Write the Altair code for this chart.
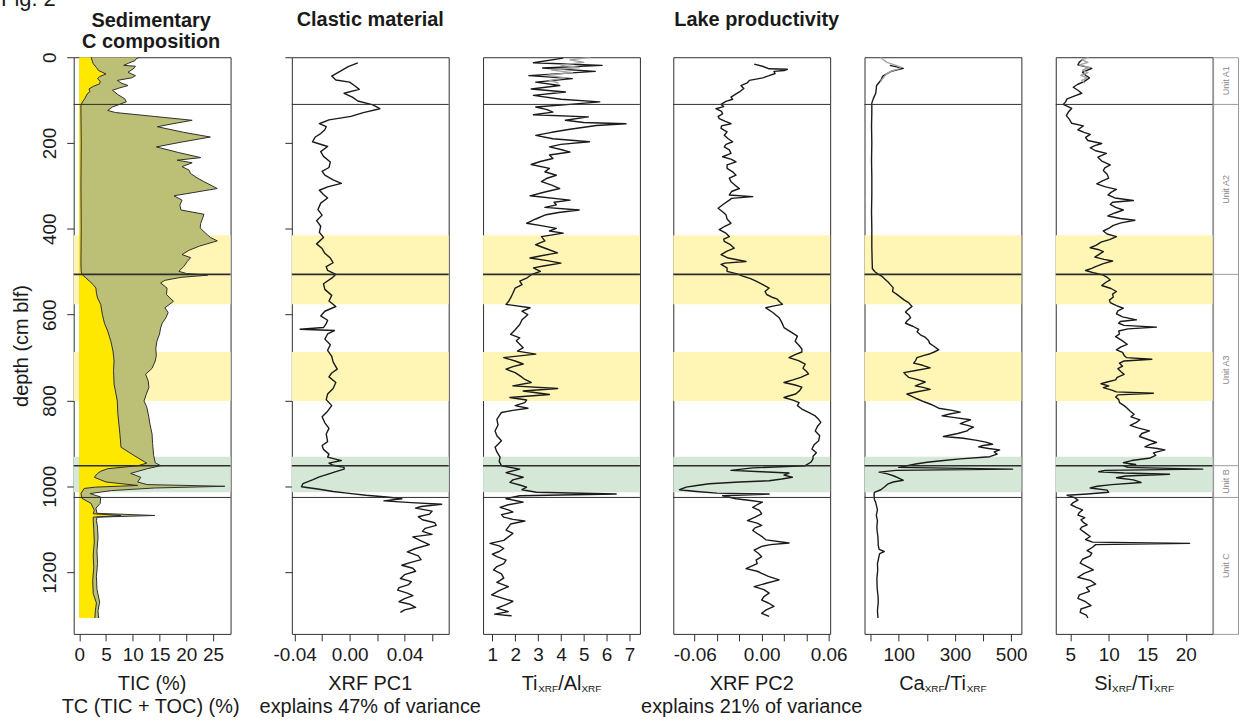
import altair as alt
import pandas as pd

# ---------------------------------------------------------------- styling
FONT = "Liberation Sans"
INK = "#1a1a1a"
FRAME = "#2e2e2e"
GREY_SERIES = "#a3a3a3"
UNIT_GREY = "#9a9a9a"
BAND_YELLOW = "#FFF5B5"
BAND_GREEN = "#D5E7D6"
TIC_FILL = "#FFE800"
TC_FILL = "#BCC076"

PANEL_W = 157.5
PANEL_H = 579
UNIT_W = 25
DEPTH_DOMAIN = [0, 1344]
DEPTH_TICKS = [0, 200, 400, 600, 800, 1000, 1200]

# ---------------------------------------------------------------- core units and shaded intervals
UNIT_NAMES = ["Unit A1", "Unit A2", "Unit A3", "Unit B", "Unit C"]
UNIT_TOP = [0, 110, 506, 952, 1026]
UNIT_BASE = [110, 506, 952, 1026, 1344]
BOUNDARY_DEPTH = [110, 506, 952, 1026]
BOUNDARY_WIDTH = [1.0, 1.6, 1.6, 1.0]

BAND_TOP = [415, 687, 931]
BAND_BASE = [576, 801, 1014]
BAND_KIND = ["yellow", "yellow", "green"]

# ---------------------------------------------------------------- carbon (depth cm, %)
TIC = [(0, 2.2), (8, 2.4), (15, 2.6), (24, 3.2), (31, 3.6), (39, 5.0), (45, 3.8), (50, 3.4),
       (56, 3.9), (62, 3.8), (68, 2.6), (74, 1.8), (80, 2.0), (85, 1.5), (97, 1.0), (104, 0.6),
       (112, 0.3), (130, 0.3), (200, 0.35), (300, 0.3), (400, 0.35), (480, 0.3), (500, 0.35),
       (506, 0.5), (514, 1.2), (522, 1.9), (530, 2.6), (538, 3.1), (550, 3.2), (561, 3.4),
       (576, 4.0), (599, 4.3), (620, 4.7), (638, 5.3), (662, 5.9), (685, 6.3), (708, 6.5),
       (730, 6.4), (762, 6.5), (801, 7.1), (830, 7.2), (855, 7.4), (880, 7.6), (909, 7.8),
       (928, 10.2), (946, 12.6), (952, 11.0), (959, 5.3), (965, 4.0), (970, 3.4), (979, 2.8),
       (990, 5.0), (998, 10.9), (1002, 3.0), (1005, 0.9), (1017, 0.3), (1028, 0.5), (1040, 2.2),
       (1056, 2.8), (1064, 2.6), (1068, 7.8), (1072, 2.6), (1079, 2.6), (1100, 2.7), (1130, 2.8),
       (1160, 2.6), (1190, 2.7), (1220, 2.5), (1250, 2.6), (1272, 3.2), (1290, 3.0), (1307, 2.9)]

TC = [(0, 11.2), (4, 10.6), (8, 10.4), (14, 9.2), (19, 8.3), (21, 10.5), (28, 10.0), (35, 9.1),
      (43, 10.5), (48, 9.8), (54, 7.1), (60, 7.8), (66, 9.1), (72, 7.4), (77, 6.2), (87, 7.2),
      (97, 8.5), (104, 8.8), (110, 7.5), (116, 6.2), (124, 5.3), (129, 6.8), (138, 14.0),
      (147, 21.1), (155, 17.5), (162, 14.6), (175, 19.5), (186, 24.5), (198, 19.0), (209, 14.4),
      (222, 18.5), (234, 22.7), (240, 18.3), (246, 21.1), (255, 19.2), (263, 20.5), (271, 20.8),
      (281, 22.0), (290, 23.3), (306, 25.8), (323, 17.7), (333, 19.2), (345, 18.8), (356, 19.0),
      (366, 23.3), (377, 23.0), (387, 22.7), (398, 22.6), (410, 23.6), (420, 24.5), (428, 25.8),
      (440, 22.5), (450, 20.5), (460, 19.2), (467, 20.8), (476, 20.2), (488, 19.5), (499, 18.6),
      (504, 20.0), (508, 24.0), (513, 19.0), (520, 16.0), (526, 15.2), (538, 16.4), (553, 16.3),
      (569, 17.6), (584, 16.0), (595, 16.6), (607, 16.2), (620, 15.5), (631, 15.2), (645, 15.0),
      (662, 14.5), (680, 14.3), (695, 14.4), (708, 14.2), (725, 13.6), (739, 12.4), (755, 12.9),
      (770, 13.0), (786, 12.5), (801, 12.1), (815, 12.6), (839, 13.0), (855, 13.2), (878, 13.6),
      (900, 13.7), (928, 13.9), (945, 14.2), (952, 15.2), (959, 12.7), (965, 11.0), (970, 9.6),
      (979, 11.5), (990, 10.9), (996, 12.7), (1000, 27.2), (1004, 14.0), (1010, 6.0),
      (1017, 2.0), (1025, 4.0), (1040, 3.9), (1051, 3.1), (1063, 3.3), (1068, 14.1), (1072, 3.3),
      (1080, 3.2), (1095, 3.4), (1120, 3.5), (1150, 3.3), (1180, 3.4), (1210, 3.2), (1240, 3.3),
      (1270, 3.8), (1290, 3.5), (1307, 3.6)]

# ---------------------------------------------------------------- XRF principal component 1
PC1 = [(13, 0.006), (22, -0.001), (31, -0.006), (44, -0.013), (53, -0.010), (58, 0.000),
       (67, 0.004), (75, 0.007), (84, -0.004), (93, 0.002), (102, 0.006), (111, 0.017),
       (120, 0.022), (129, 0.010), (138, 0.001), (146, -0.015), (155, -0.022), (162, -0.017),
       (169, -0.018), (178, -0.021), (186, -0.025), (197, -0.027), (208, -0.016), (220, -0.021),
       (231, -0.019), (244, -0.014), (257, -0.015), (266, -0.020), (275, -0.018), (286, -0.012),
       (294, -0.006), (302, -0.016), (310, -0.022), (320, -0.019), (328, -0.016), (340, -0.021),
       (355, -0.023), (368, -0.020), (381, -0.024), (394, -0.021), (408, -0.022), (420, -0.019),
       (435, -0.024), (446, -0.020), (457, -0.018), (468, -0.014), (479, -0.012), (488, -0.017),
       (497, -0.016), (506, -0.010), (515, -0.013), (528, -0.019), (541, -0.018), (555, -0.013),
       (568, -0.015), (581, -0.010), (592, -0.018), (603, -0.021), (613, -0.016), (621, -0.017),
       (630, -0.019), (634, -0.036), (637, -0.011), (645, -0.016), (657, -0.018), (670, -0.014),
       (683, -0.016), (697, -0.013), (710, -0.012), (727, -0.009), (736, -0.013), (745, -0.015),
       (758, -0.010), (772, -0.012), (785, -0.016), (798, -0.017), (812, -0.013), (825, -0.016),
       (838, -0.020), (852, -0.018), (865, -0.015), (878, -0.017), (896, -0.016), (905, -0.020),
       (914, -0.019), (925, -0.015), (932, -0.016), (940, -0.006), (946, -0.015), (951, -0.012),
       (956, -0.004), (960, -0.004), (966, -0.010), (971, -0.015), (978, -0.022), (985, -0.027),
       (994, -0.034), (1001, -0.035), (1007, -0.022), (1012, -0.012), (1016, -0.002),
       (1021, 0.012), (1025, 0.027), (1029, 0.038), (1034, 0.025), (1038, 0.045), (1042, 0.067),
       (1047, 0.052), (1051, 0.048), (1058, 0.060), (1065, 0.058), (1071, 0.050), (1078, 0.053),
       (1085, 0.062), (1091, 0.063), (1098, 0.055), (1105, 0.053), (1112, 0.060), (1118, 0.046),
       (1127, 0.052), (1136, 0.058), (1145, 0.048), (1153, 0.042), (1162, 0.050), (1171, 0.052),
       (1178, 0.044), (1184, 0.038), (1191, 0.046), (1198, 0.048), (1206, 0.040), (1215, 0.037),
       (1222, 0.045), (1229, 0.043), (1236, 0.036), (1242, 0.035), (1249, 0.042), (1255, 0.046),
       (1262, 0.040), (1269, 0.036), (1275, 0.044), (1282, 0.048), (1288, 0.040), (1294, 0.037)]

# ---------------------------------------------------------------- Ti/Al ratio
TI_AL = [(2, 4.1), (13, 2.8), (19, 5.8), (25, 3.2), (33, 5.5), (43, 2.6), (50, 4.5), (58, 2.9),
         (66, 3.95), (74, 2.7), (81, 4.2), (89, 2.8), (98, 4.0), (104, 5.7), (110, 4.4),
         (116, 2.9), (122, 3.4), (128, 3.65), (134, 2.8), (139, 5.2), (147, 4.2), (152, 5.0),
         (155, 6.85), (159, 5.55), (168, 4.4), (175, 3.6), (182, 2.9), (190, 3.65), (197, 5.25),
         (203, 4.0), (209, 3.5), (215, 4.0), (221, 4.4), (228, 3.5), (236, 3.65), (243, 3.1),
         (250, 2.7), (259, 3.5), (267, 3.3), (275, 3.8), (282, 3.4), (290, 3.15), (298, 3.6),
         (306, 3.95), (314, 3.3), (323, 2.65), (333, 4.4), (338, 3.7), (344, 3.8), (350, 3.3),
         (356, 4.8), (362, 3.9), (367, 3.35), (377, 2.9), (387, 2.5), (393, 3.2), (399, 3.8),
         (405, 3.5), (410, 4.1), (418, 3.15), (428, 3.3), (437, 2.9), (447, 3.4), (456, 3.85),
         (462, 3.2), (468, 2.65), (474, 3.4), (480, 4.0), (486, 3.3), (491, 2.8), (499, 3.1),
         (507, 2.7), (515, 2.5), (522, 2.2), (530, 2.3), (538, 2.0), (550, 1.9), (561, 1.8),
         (570, 1.7), (576, 1.6), (584, 2.65), (592, 2.3), (600, 2.55), (612, 2.3), (623, 2.2),
         (635, 2.0), (646, 1.8), (654, 2.2), (661, 2.05), (669, 2.2), (677, 2.35), (685, 2.1),
         (692, 2.9), (700, 1.5), (708, 2.0), (715, 2.35), (721, 1.9), (727, 1.6), (735, 2.0),
         (742, 2.2), (750, 2.4), (758, 2.7), (766, 1.9), (772, 3.86), (778, 2.35), (786, 3.5),
         (793, 1.77), (799, 2.5), (805, 2.42), (812, 2.0), (818, 2.56), (823, 1.9), (828, 1.4),
         (836, 1.3), (844, 1.2), (857, 1.25), (871, 1.12), (882, 1.2), (894, 1.4), (902, 1.25),
         (909, 1.12), (920, 1.2), (932, 1.34), (942, 1.3), (952, 1.4), (960, 2.2), (968, 1.6),
         (974, 2.0), (979, 2.35), (985, 1.9), (991, 1.77), (997, 2.2), (1002, 2.5), (1008, 2.3),
         (1014, 2.93), (1018, 6.42), (1022, 2.2), (1029, 1.6), (1033, 2.0), (1037, 2.35),
         (1043, 1.7), (1049, 1.34), (1055, 1.7), (1060, 1.9), (1066, 1.4), (1072, 1.5),
         (1077, 1.9), (1081, 2.42), (1088, 1.8), (1095, 1.7), (1102, 1.6), (1110, 1.9),
         (1118, 1.7), (1126, 1.5), (1133, 0.9), (1139, 1.3), (1145, 1.5), (1152, 1.3), (1158, 1.0),
         (1164, 1.2), (1172, 1.6), (1180, 1.5), (1187, 1.2), (1195, 1.05), (1204, 1.4),
         (1214, 1.5), (1224, 1.2), (1234, 1.7), (1243, 1.3), (1253, 0.97), (1260, 1.4),
         (1268, 1.9), (1276, 1.6), (1284, 1.2), (1292, 1.7), (1298, 1.1), (1302, 1.85)]
TI_AL_TOP = [(0, 5.3), (6, 4.4), (12, 5.0), (18, 4.0), (24, 4.8), (30, 3.6), (36, 4.5),
             (42, 3.4), (48, 4.2), (54, 3.5), (60, 3.9)]

# ---------------------------------------------------------------- XRF principal component 2
PC2 = [(16, -0.0067), (21, 0.0007), (27, 0.0067), (28, 0.023), (31, 0.020), (33, 0.011),
       (38, 0.012), (43, 0.0067), (48, 0.001), (54, -0.011), (60, -0.013), (66, -0.0186),
       (73, -0.016), (81, -0.020), (87, -0.024), (93, -0.0275), (98, -0.026), (103, -0.032),
       (110, -0.0364), (115, -0.034), (120, -0.041), (126, -0.036), (132, -0.035), (138, -0.039),
       (143, -0.038), (149, -0.033), (155, -0.0275), (160, -0.036), (166, -0.0364), (174, -0.031),
       (182, -0.0335), (190, -0.030), (197, -0.026), (203, -0.032), (209, -0.0335), (216, -0.029),
       (224, -0.0275), (232, -0.035), (238, -0.027), (244, -0.023), (251, -0.031), (259, -0.031),
       (267, -0.026), (275, -0.023), (282, -0.029), (290, -0.0275), (298, -0.024), (306, -0.020),
       (313, -0.027), (321, -0.029), (325, -0.008), (329, -0.027), (333, -0.029), (342, -0.034),
       (352, -0.039), (360, -0.035), (367, -0.032), (377, -0.031), (387, -0.0275), (394, -0.033),
       (402, -0.038), (410, -0.032), (418, -0.029), (424, -0.034), (429, -0.0335), (437, -0.028),
       (445, -0.0245), (452, -0.031), (460, -0.0364), (468, -0.030), (476, -0.014), (480, -0.033),
       (483, -0.0364), (491, -0.031), (499, -0.031), (505, -0.022), (510, -0.017), (516, -0.010),
       (522, -0.005), (530, 0.001), (538, 0.0067), (546, 0.003), (553, 0.0045), (560, 0.010),
       (564, 0.014), (570, 0.016), (576, 0.0186), (580, 0.010), (584, 0.0037), (595, 0.010),
       (607, 0.0156), (618, 0.018), (630, 0.020), (640, 0.026), (650, 0.032), (662, 0.030),
       (672, 0.0335), (680, 0.036), (687, 0.036), (693, 0.030), (700, 0.0245), (707, 0.033),
       (715, 0.039), (725, 0.037), (732, 0.040), (738, 0.042), (746, 0.035), (752, 0.028),
       (758, 0.020), (764, 0.030), (769, 0.036), (777, 0.034), (785, 0.0305), (789, 0.025),
       (793, 0.020), (799, 0.028), (805, 0.0335), (812, 0.032), (820, 0.036), (828, 0.042),
       (836, 0.048), (844, 0.051), (851, 0.053), (860, 0.050), (871, 0.048), (882, 0.052),
       (894, 0.051), (903, 0.047), (913, 0.045), (922, 0.049), (930, 0.046), (936, 0.046),
       (944, 0.044), (952, 0.039), (957, -0.008), (963, -0.0275), (966, 0.000), (969, 0.0245),
       (974, 0.020), (979, 0.0275), (983, 0.018), (987, 0.0067), (990, -0.020), (994, -0.047),
       (998, -0.058), (1002, -0.0676), (1008, -0.0736), (1012, -0.0587), (1016, -0.040),
       (1018, 0.0067), (1022, -0.035), (1025, -0.030), (1029, -0.023), (1033, -0.010),
       (1037, 0.0007), (1043, -0.004), (1049, -0.008), (1056, -0.002), (1064, 0.000),
       (1072, -0.006), (1080, -0.0127), (1086, -0.004), (1091, 0.000), (1097, -0.006),
       (1103, -0.008), (1110, -0.004), (1118, 0.0007), (1125, 0.004), (1132, 0.0245),
       (1136, 0.008), (1140, 0.000), (1149, -0.0067), (1156, -0.003), (1164, 0.000),
       (1172, -0.005), (1180, -0.004), (1186, -0.009), (1192, -0.014), (1198, -0.004),
       (1203, 0.000), (1210, 0.006), (1218, 0.0156), (1226, 0.004), (1234, -0.0067),
       (1241, 0.002), (1249, 0.0067), (1257, 0.002), (1265, 0.000), (1272, 0.006), (1280, 0.011),
       (1288, 0.004), (1296, 0.000), (1303, 0.0067)]

# ---------------------------------------------------------------- Ca/Ti ratio
CA_TI = [(19, 68), (26, 116), (33, 73), (44, 43), (53, 37), (66, 21), (84, 18), (97, 9),
         (107, 4), (130, 4), (160, 3), (200, 4), (240, 3), (280, 4), (320, 4), (360, 3), (400, 4),
         (440, 4), (470, 5), (493, 6), (500, 15), (505, 25), (510, 39), (517, 50), (524, 62),
         (530, 70), (537, 80), (546, 78), (552, 92), (559, 106), (566, 120), (572, 135),
         (581, 147), (587, 135), (594, 124), (600, 135), (607, 142), (614, 130), (620, 124),
         (627, 150), (634, 171), (640, 165), (647, 177), (653, 195), (660, 206), (667, 210),
         (673, 224), (682, 242), (687, 226), (691, 212), (695, 190), (700, 165), (707, 160),
         (713, 153), (718, 185), (724, 212), (730, 160), (735, 118), (740, 125), (746, 135),
         (752, 170), (757, 194), (762, 175), (766, 159), (770, 190), (774, 212), (779, 170),
         (785, 129), (790, 145), (796, 165), (803, 190), (810, 218), (814, 230), (818, 242),
         (823, 290), (827, 319), (831, 285), (836, 254), (840, 300), (845, 355), (850, 335),
         (854, 319), (858, 345), (862, 366), (867, 350), (871, 343), (877, 310), (884, 259),
         (888, 330), (893, 378), (897, 410), (902, 434), (905, 400), (908, 384), (912, 420),
         (915, 459), (920, 440), (925, 450), (931, 424), (936, 319), (940, 260), (944, 201),
         (948, 160), (952, 130), (956, 100), (960, 505), (963, 90), (967, 30), (971, 60),
         (976, 83), (981, 100), (986, 116), (990, 80), (995, 60), (1001, 50), (1008, 36),
         (1014, 13), (1022, 12), (1030, 13), (1038, 18), (1055, 24), (1068, 20), (1080, 24),
         (1095, 22), (1104, 23), (1120, 26), (1138, 27), (1147, 30), (1152, 48), (1157, 32),
         (1162, 30), (1180, 24), (1195, 25), (1215, 22), (1237, 23), (1255, 26), (1270, 27),
         (1290, 24), (1307, 26)]
CA_TI_TOP = [(0, 35), (6, 45), (12, 58), (18, 85), (23, 108), (27, 100), (32, 75), (38, 58),
             (44, 50), (52, 40), (58, 35)]

# ---------------------------------------------------------------- Si/Ti ratio
SI_TI = [(4, 6.7), (11, 6.2), (18, 6.0), (26, 7.8), (35, 6.6), (42, 7.0), (48, 7.5), (57, 6.8),
         (63, 6.0), (70, 5.4), (77, 6.0), (84, 6.5), (90, 5.6), (97, 4.6), (104, 4.4), (110, 4.1),
         (119, 5.2), (127, 4.8), (136, 4.5), (145, 4.9), (154, 5.2), (160, 6.7), (169, 6.0),
         (175, 6.8), (180, 7.6), (187, 7.0), (194, 7.3), (201, 9.1), (206, 8.2), (211, 7.6),
         (218, 8.3), (224, 9.7), (233, 8.6), (242, 9.1), (251, 10.2), (258, 9.5), (264, 9.3),
         (273, 9.8), (282, 10.0), (288, 9.2), (295, 8.45), (302, 9.6), (308, 11.0), (315, 10.3),
         (321, 9.9), (328, 10.8), (334, 13.2), (338, 10.5), (343, 10.2), (350, 10.9), (356, 11.9),
         (363, 10.8), (370, 9.9), (376, 11.5), (380, 13.4), (386, 11.6), (392, 10.6), (399, 10.0),
         (405, 9.3), (412, 9.8), (418, 11.0), (425, 10.1), (431, 9.0), (438, 8.4), (444, 7.6),
         (448, 8.6), (453, 9.3), (460, 8.7), (466, 8.2), (471, 9.4), (475, 10.5), (481, 9.3),
         (488, 8.3), (492, 7.8), (497, 7.0), (503, 8.2), (508, 9.3), (513, 9.8), (519, 10.2),
         (525, 9.6), (532, 9.1), (539, 10.3), (546, 11.0), (552, 10.5), (559, 10.6), (566, 10.1),
         (572, 10.2), (579, 11.0), (585, 11.9), (591, 11.2), (598, 11.0), (605, 11.8),
         (612, 13.6), (616, 11.5), (620, 11.3), (625, 12.0), (629, 16.2), (633, 12.5),
         (638, 11.3), (645, 11.4), (651, 10.9), (660, 11.7), (669, 12.4), (675, 11.6),
         (682, 11.0), (688, 11.8), (695, 12.0), (700, 12.3), (704, 15.6), (708, 12.0),
         (713, 11.4), (720, 11.8), (726, 11.2), (733, 11.6), (739, 12.0), (746, 11.1),
         (752, 10.9), (757, 9.8), (761, 9.0), (766, 10.0), (770, 9.3), (776, 10.4), (780, 11.0),
         (783, 15.8), (787, 11.2), (792, 10.9), (798, 11.3), (805, 11.4), (812, 12.0),
         (818, 12.4), (825, 12.8), (832, 13.3), (838, 12.9), (845, 14.05), (851, 13.6),
         (858, 12.8), (864, 13.8), (871, 15.3), (877, 14.3), (884, 14.0), (891, 15.1),
         (898, 16.2), (903, 15.3), (908, 14.7), (912, 16.3), (915, 17.3), (922, 15.8),
         (928, 16.1), (934, 15.4), (940, 13.0), (945, 11.9), (949, 13.5), (953, 12.0),
         (956, 12.5), (960, 22.2), (963, 9.5), (966, 8.7), (969, 12.0), (972, 17.9), (976, 12.2),
         (980, 11.0), (985, 13.2), (991, 14.2), (996, 10.4), (1000, 8.5), (1004, 7.6),
         (1009, 9.8), (1014, 10.0), (1018, 7.2), (1021, 4.6), (1026, 5.5), (1032, 6.0),
         (1038, 5.4), (1043, 5.1), (1049, 5.8), (1055, 6.6), (1061, 6.2), (1067, 6.0),
         (1073, 6.9), (1078, 6.4), (1084, 6.7), (1090, 7.2), (1095, 6.5), (1100, 6.3),
         (1108, 6.9), (1117, 7.6), (1124, 7.0), (1130, 7.9), (1133, 20.5), (1136, 8.3),
         (1142, 7.9), (1150, 7.2), (1156, 7.8), (1162, 7.6), (1170, 6.6), (1179, 6.3),
         (1187, 7.2), (1195, 8.0), (1203, 6.8), (1212, 6.0), (1220, 7.7), (1228, 8.3),
         (1236, 7.1), (1245, 7.5), (1253, 6.2), (1261, 6.0), (1269, 7.0), (1278, 7.7),
         (1286, 6.4), (1294, 6.3), (1300, 7.1), (1307, 7.3)]
SI_TI_TOP = [(0, 7.4), (6, 6.5), (12, 7.3), (18, 6.2), (24, 7.5), (30, 6.6), (36, 7.3),
             (42, 6.4), (48, 7.2), (54, 6.5), (60, 6.9)]

# ---------------------------------------------------------------- x scales and tick labels
C_DOMAIN = [-1.05, 28.28]
C_TICKS = [0, 5, 10, 15, 20, 25]
C_LABELS = ["0", "5", "10", "15", "20", "25"]

PC1_DOMAIN = [-0.04203, 0.07210]
PC1_TICKS = [-0.04, -0.02, 0.0, 0.02, 0.04, 0.06]
PC1_LABELS = ["-0.04", "", "0.00", "", "0.04", ""]

TI_AL_DOMAIN = [0.5948, 7.4575]
TI_AL_TICKS = [1, 2, 3, 4, 5, 6, 7]
TI_AL_LABELS = ["1", "2", "3", "4", "5", "6", "7"]

PC2_DOMAIN = [-0.07918, 0.06134]
PC2_TICKS = [-0.06, -0.04, -0.02, 0.0, 0.02, 0.04, 0.06]
PC2_LABELS = ["-0.06", "", "", "0.00", "", "", "0.06"]

CA_TI_DOMAIN = [-21.99, 536.5]
CA_TI_TICKS = [0, 100, 200, 300, 400, 500]
CA_TI_LABELS = ["", "100", "", "300", "", "500"]

SI_TI_DOMAIN = [3.125, 23.49]
SI_TI_TICKS = [5, 10, 15, 20]
SI_TI_LABELS = ["5", "10", "15", "20"]

# Arial / Liberation Sans advance widths (em) for the composite axis titles
CHAR_W = {"T": 0.611, "i": 0.222, "X": 0.667, "R": 0.722, "F": 0.611, "/": 0.278,
          "A": 0.667, "l": 0.222, "C": 0.722, "a": 0.556, "S": 0.667}

ONE = pd.DataFrame({"k": [0]})
FRAME_VIEW = alt.ViewBackground(stroke=FRAME, strokeWidth=1)


def label_expr(ticks, labels):
    expr = "''"
    for t, lab in reversed(list(zip(ticks, labels))):
        expr = f"abs(datum.value - ({t})) < 1e-7 ? '{lab}' : {expr}"
    return expr


def bottom_axis(ticks, labels):
    return alt.Axis(values=ticks, labelExpr=label_expr(ticks, labels), orient="bottom",
                    tickSize=7, domain=False, grid=False, labelFontSize=19, labelPadding=5,
                    labelFlush=False, labelOverlap=False)


Y_AXIS_MAIN = alt.Axis(values=DEPTH_TICKS, format="d", labelAngle=270, labelAlign="center",
                       labelBaseline="bottom", labelFontSize=19, labelPadding=7, tickSize=7,
                       domain=False, grid=False, labelFlush=False, labelOverlap=False,
                       title="depth (cm blf)", titleFontSize=20, titleFontWeight="normal",
                       titlePadding=9)
Y_AXIS_TICKS = alt.Axis(values=DEPTH_TICKS, labels=False, tickSize=7, domain=False,
                        grid=False, title=None)


def yenc(field, axis):
    return alt.Y(f"{field}:Q", axis=axis,
                 scale=alt.Scale(domain=DEPTH_DOMAIN, reverse=True, nice=False, zero=False))


def xenc(domain, axis, field="value"):
    return alt.X(f"{field}:Q", axis=axis, title=None,
                 scale=alt.Scale(domain=domain, nice=False, zero=False))


def bands(y_axis):
    df = pd.DataFrame({"top": BAND_TOP, "base": BAND_BASE, "kind": BAND_KIND})
    return alt.Chart(df).mark_rect().encode(
        y=yenc("top", y_axis), y2="base:Q",
        x=alt.value(0), x2=alt.value(PANEL_W),
        color=alt.Color("kind:N", legend=None,
                        scale=alt.Scale(domain=["yellow", "green"],
                                        range=[BAND_YELLOW, BAND_GREEN])))


def boundaries(y_axis):
    df = pd.DataFrame({"depth": BOUNDARY_DEPTH, "w": BOUNDARY_WIDTH})
    return alt.Chart(df).mark_rule(color=FRAME).encode(
        y=yenc("depth", y_axis), x=alt.value(0), x2=alt.value(PANEL_W),
        strokeWidth=alt.StrokeWidth("w:Q", scale=None, legend=None))


def curve(pairs, domain, x_axis, y_axis, color=INK, width=1.4):
    df = pd.DataFrame(pairs, columns=["depth", "value"])
    return alt.Chart(df).mark_line(color=color, strokeWidth=width, clip=True,
                                   strokeJoin="round").encode(
        x=xenc(domain, x_axis), y=yenc("depth", y_axis), order="depth:Q")


def filled(pairs, domain, x_axis, y_axis, fill):
    # horizontal area from 0 % out to the measured value, ordered down-core
    df = pd.DataFrame(pairs, columns=["depth", "value"])
    df["zero"] = 0.0
    return alt.Chart(df).mark_area(orient="horizontal", fill=fill, fillOpacity=1,
                                   clip=True).encode(
        x=xenc(domain, x_axis), x2="zero:Q", y=yenc("depth", y_axis))


def note(text, x, y, size=20, weight="normal", align="center", color=INK):
    return alt.Chart(ONE).mark_text(font=FONT, fontSize=size, fontWeight=weight, align=align,
                                    baseline="alphabetic", color=color).encode(
        x=alt.value(x), y=alt.value(y), text=alt.value(text))


def ratio_title(parts, cx, y):
    """Element ratio title with XRF subscripts, centred on cx."""
    sizes = [10 if sub else 20 for _, sub in parts]
    widths = [sum(CHAR_W[c] for c in t) * s for (t, _), s in zip(parts, sizes)]
    x = cx - sum(widths) / 2
    out = []
    for (t, sub), s, w in zip(parts, sizes, widths):
        out.append(note(t, x, y + (2 if sub else 0), size=s, align="left"))
        x += w
    return out


LINE1 = 635.7
LINE2 = 658
MID = PANEL_W / 2

# ---------------------------------------------------------------- panel 1: carbon
c_axis = bottom_axis(C_TICKS, C_LABELS)
p1 = alt.layer(
    bands(Y_AXIS_MAIN),
    filled(TC, C_DOMAIN, c_axis, Y_AXIS_MAIN, TC_FILL),
    filled(TIC, C_DOMAIN, c_axis, Y_AXIS_MAIN, TIC_FILL),
    curve(TC, C_DOMAIN, c_axis, Y_AXIS_MAIN, color=FRAME, width=1),
    curve(TIC, C_DOMAIN, c_axis, Y_AXIS_MAIN, color=FRAME, width=1),
    boundaries(Y_AXIS_MAIN),
    note("Fig. 2", -73, -51, size=22, align="left"),
    note("Sedimentary", MID - 1, -30, weight="bold"),
    note("C composition", MID - 1, -9, weight="bold"),
    note("TIC (%)", MID, LINE1),
    note("TC (TIC + TOC) (%)", MID - 1.5, LINE2),
).properties(width=PANEL_W, height=PANEL_H, view=FRAME_VIEW)

# ---------------------------------------------------------------- panel 2: PC1
pc1_axis = bottom_axis(PC1_TICKS, PC1_LABELS)
p2 = alt.layer(
    bands(Y_AXIS_TICKS),
    curve(PC1, PC1_DOMAIN, pc1_axis, Y_AXIS_TICKS),
    boundaries(Y_AXIS_TICKS),
    note("Clastic material", MID, -31.5, weight="bold"),
    note("XRF PC1", MID, LINE1),
    note("explains 47% of variance", MID, LINE2),
).properties(width=PANEL_W, height=PANEL_H, view=FRAME_VIEW)

# ---------------------------------------------------------------- panel 3: Ti/Al
tial_axis = bottom_axis(TI_AL_TICKS, TI_AL_LABELS)
p3 = alt.layer(
    bands(None),
    curve(TI_AL, TI_AL_DOMAIN, tial_axis, None),
    curve(TI_AL_TOP, TI_AL_DOMAIN, tial_axis, None, color=GREY_SERIES),
    boundaries(None),
    *ratio_title([("Ti", False), ("XRF", True), ("/Al", False), ("XRF", True)], MID, LINE1),
).properties(width=PANEL_W, height=PANEL_H, view=FRAME_VIEW)

# ---------------------------------------------------------------- panel 4: PC2
pc2_axis = bottom_axis(PC2_TICKS, PC2_LABELS)
p4 = alt.layer(
    bands(None),
    curve(PC2, PC2_DOMAIN, pc2_axis, None),
    boundaries(None),
    note("Lake productivity", MID + 5, -31, weight="bold"),
    note("XRF PC2", MID, LINE1),
    note("explains 21% of variance", MID, LINE2),
).properties(width=PANEL_W, height=PANEL_H, view=FRAME_VIEW)

# ---------------------------------------------------------------- panel 5: Ca/Ti
cati_axis = bottom_axis(CA_TI_TICKS, CA_TI_LABELS)
p5 = alt.layer(
    bands(None),
    curve(CA_TI, CA_TI_DOMAIN, cati_axis, None),
    curve(CA_TI_TOP, CA_TI_DOMAIN, cati_axis, None, color=GREY_SERIES),
    boundaries(None),
    *ratio_title([("Ca", False), ("XRF", True), ("/Ti", False), ("XRF", True)], MID, LINE1),
).properties(width=PANEL_W, height=PANEL_H, view=FRAME_VIEW)

# ---------------------------------------------------------------- panel 6: Si/Ti
siti_axis = bottom_axis(SI_TI_TICKS, SI_TI_LABELS)
p6 = alt.layer(
    bands(None),
    curve(SI_TI, SI_TI_DOMAIN, siti_axis, None),
    curve(SI_TI_TOP, SI_TI_DOMAIN, siti_axis, None, color=GREY_SERIES),
    boundaries(None),
    *ratio_title([("Si", False), ("XRF", True), ("/Ti", False), ("XRF", True)], MID, LINE1),
).properties(width=PANEL_W, height=PANEL_H, view=FRAME_VIEW)

# ---------------------------------------------------------------- unit column
unit_df = pd.DataFrame({"name": UNIT_NAMES, "top": UNIT_TOP, "base": UNIT_BASE})
unit_df["mid"] = (unit_df["top"] + unit_df["base"]) / 2
unit_lines = alt.Chart(pd.DataFrame({"depth": BOUNDARY_DEPTH})).mark_rule(
    color=UNIT_GREY, strokeWidth=1).encode(
    y=yenc("depth", None), x=alt.value(0), x2=alt.value(UNIT_W))
unit_text = alt.Chart(unit_df).mark_text(angle=270, font=FONT, fontSize=9, color="#8a8a8a",
                                         align="center", baseline="middle").encode(
    y=yenc("mid", None), x=alt.value(UNIT_W / 2), text="name:N")
units = alt.layer(unit_lines, unit_text).properties(
    width=UNIT_W, height=PANEL_H, view=alt.ViewBackground(stroke=UNIT_GREY, strokeWidth=1))


def spacer(w):
    return alt.Chart(ONE).mark_point(opacity=0).encode(
        x=alt.value(0), y=alt.value(0)).properties(width=w, height=PANEL_H)


chart = alt.hconcat(
    p1, spacer(61), p2, spacer(34), p3, spacer(33), p4, spacer(33.5), p5, spacer(33.5), p6, units,
    spacing=0, bounds="flush",
).properties(
    padding={"left": 0, "top": -14, "right": 1, "bottom": 2},
).configure_view(strokeWidth=0).configure_axis(
    labelFont=FONT, titleFont=FONT, labelColor=INK, titleColor=INK,
    tickColor=FRAME, tickWidth=1,
)

chart.save("out.html", embed_options={"renderer": "svg", "actions": False})
